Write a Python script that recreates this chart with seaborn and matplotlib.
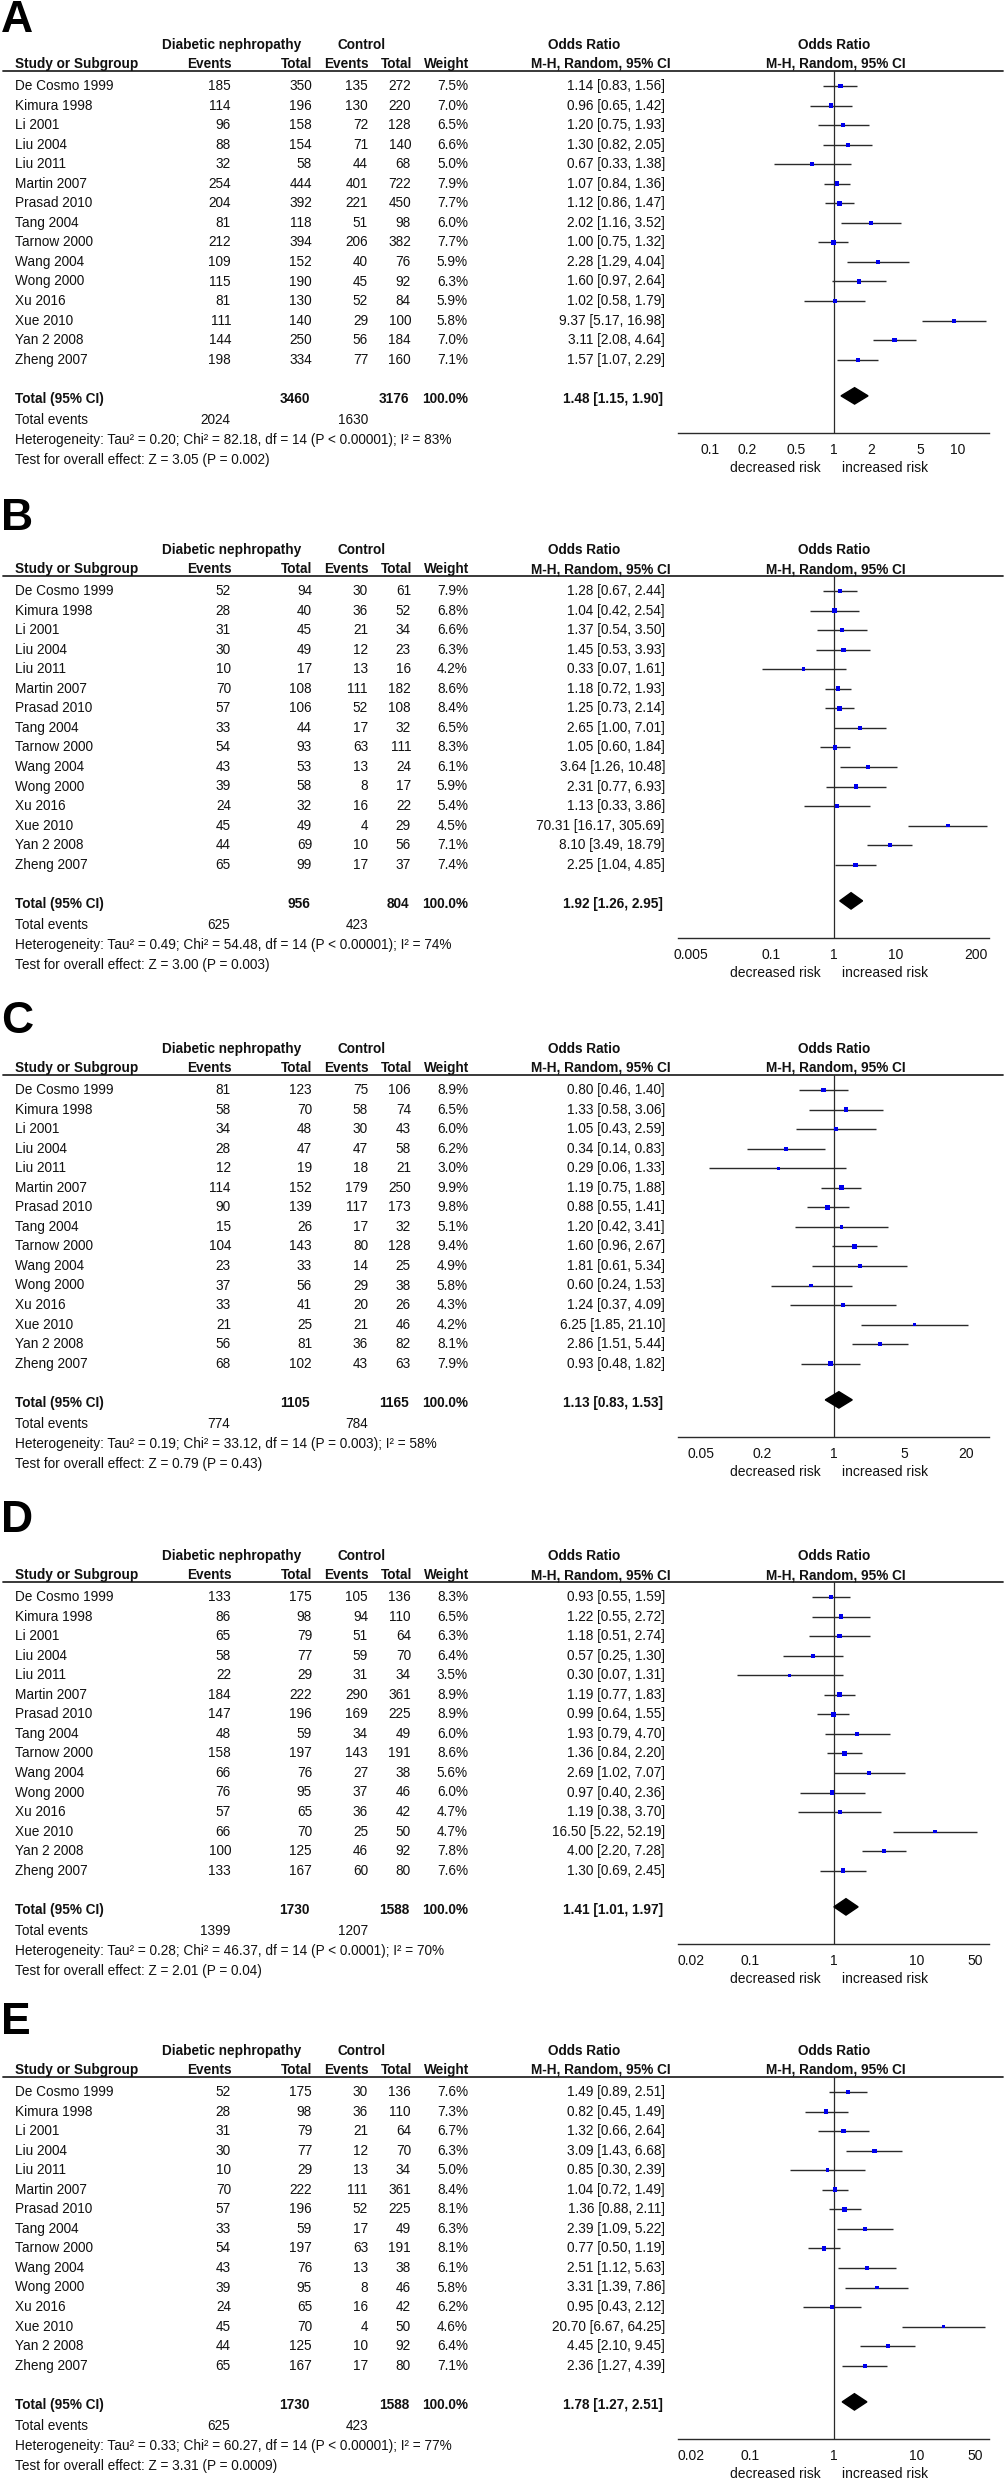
import numpy as np
import seaborn as sns
import matplotlib.pyplot as plt
from matplotlib.ticker import NullLocator
from matplotlib.transforms import blended_transform_factory

# ---- data ----
studies = ["De Cosmo 1999", "Kimura 1998", "Li 2001", "Liu 2004", "Liu 2011",
           "Martin 2007", "Prasad 2010", "Tang 2004", "Tarnow 2000", "Wang 2004",
           "Wong 2000", "Xu 2016", "Xue 2010", "Yan 2 2008", "Zheng 2007"]
panel_labels = ["A", "B", "C", "D", "E"]

a_dn_events = [185, 114, 96, 88, 32, 254, 204, 81, 212, 109, 115, 81, 111, 144, 198]
a_dn_total = [350, 196, 158, 154, 58, 444, 392, 118, 394, 152, 190, 130, 140, 250, 334]
a_ct_events = [135, 130, 72, 71, 44, 401, 221, 51, 206, 40, 45, 52, 29, 56, 77]
a_ct_total = [272, 220, 128, 140, 68, 722, 450, 98, 382, 76, 92, 84, 100, 184, 160]
a_weight = [7.5, 7.0, 6.5, 6.6, 5.0, 7.9, 7.7, 6.0, 7.7, 5.9, 6.3, 5.9, 5.8, 7.0, 7.1]
a_or = [1.14, 0.96, 1.20, 1.30, 0.67, 1.07, 1.12, 2.02, 1.00, 2.28, 1.60, 1.02, 9.37, 3.11, 1.57]
a_lo = [0.83, 0.65, 0.75, 0.82, 0.33, 0.84, 0.86, 1.16, 0.75, 1.29, 0.97, 0.58, 5.17, 2.08, 1.07]
a_hi = [1.56, 1.42, 1.93, 2.05, 1.38, 1.36, 1.47, 3.52, 1.32, 4.04, 2.64, 1.79, 16.98, 4.64, 2.29]

b_dn_events = [52, 28, 31, 30, 10, 70, 57, 33, 54, 43, 39, 24, 45, 44, 65]
b_dn_total = [94, 40, 45, 49, 17, 108, 106, 44, 93, 53, 58, 32, 49, 69, 99]
b_ct_events = [30, 36, 21, 12, 13, 111, 52, 17, 63, 13, 8, 16, 4, 10, 17]
b_ct_total = [61, 52, 34, 23, 16, 182, 108, 32, 111, 24, 17, 22, 29, 56, 37]
b_weight = [7.9, 6.8, 6.6, 6.3, 4.2, 8.6, 8.4, 6.5, 8.3, 6.1, 5.9, 5.4, 4.5, 7.1, 7.4]
b_or = [1.28, 1.04, 1.37, 1.45, 0.33, 1.18, 1.25, 2.65, 1.05, 3.64, 2.31, 1.13, 70.31, 8.10, 2.25]
b_lo = [0.67, 0.42, 0.54, 0.53, 0.07, 0.72, 0.73, 1.00, 0.60, 1.26, 0.77, 0.33, 16.17, 3.49, 1.04]
b_hi = [2.44, 2.54, 3.50, 3.93, 1.61, 1.93, 2.14, 7.01, 1.84, 10.48, 6.93, 3.86, 305.69, 18.79, 4.85]

c_dn_events = [81, 58, 34, 28, 12, 114, 90, 15, 104, 23, 37, 33, 21, 56, 68]
c_dn_total = [123, 70, 48, 47, 19, 152, 139, 26, 143, 33, 56, 41, 25, 81, 102]
c_ct_events = [75, 58, 30, 47, 18, 179, 117, 17, 80, 14, 29, 20, 21, 36, 43]
c_ct_total = [106, 74, 43, 58, 21, 250, 173, 32, 128, 25, 38, 26, 46, 82, 63]
c_weight = [8.9, 6.5, 6.0, 6.2, 3.0, 9.9, 9.8, 5.1, 9.4, 4.9, 5.8, 4.3, 4.2, 8.1, 7.9]
c_or = [0.80, 1.33, 1.05, 0.34, 0.29, 1.19, 0.88, 1.20, 1.60, 1.81, 0.60, 1.24, 6.25, 2.86, 0.93]
c_lo = [0.46, 0.58, 0.43, 0.14, 0.06, 0.75, 0.55, 0.42, 0.96, 0.61, 0.24, 0.37, 1.85, 1.51, 0.48]
c_hi = [1.40, 3.06, 2.59, 0.83, 1.33, 1.88, 1.41, 3.41, 2.67, 5.34, 1.53, 4.09, 21.10, 5.44, 1.82]

d_dn_events = [133, 86, 65, 58, 22, 184, 147, 48, 158, 66, 76, 57, 66, 100, 133]
d_dn_total = [175, 98, 79, 77, 29, 222, 196, 59, 197, 76, 95, 65, 70, 125, 167]
d_ct_events = [105, 94, 51, 59, 31, 290, 169, 34, 143, 27, 37, 36, 25, 46, 60]
d_ct_total = [136, 110, 64, 70, 34, 361, 225, 49, 191, 38, 46, 42, 50, 92, 80]
d_weight = [8.3, 6.5, 6.3, 6.4, 3.5, 8.9, 8.9, 6.0, 8.6, 5.6, 6.0, 4.7, 4.7, 7.8, 7.6]
d_or = [0.93, 1.22, 1.18, 0.57, 0.30, 1.19, 0.99, 1.93, 1.36, 2.69, 0.97, 1.19, 16.50, 4.00, 1.30]
d_lo = [0.55, 0.55, 0.51, 0.25, 0.07, 0.77, 0.64, 0.79, 0.84, 1.02, 0.40, 0.38, 5.22, 2.20, 0.69]
d_hi = [1.59, 2.72, 2.74, 1.30, 1.31, 1.83, 1.55, 4.70, 2.20, 7.07, 2.36, 3.70, 52.19, 7.28, 2.45]

e_dn_events = [52, 28, 31, 30, 10, 70, 57, 33, 54, 43, 39, 24, 45, 44, 65]
e_dn_total = [175, 98, 79, 77, 29, 222, 196, 59, 197, 76, 95, 65, 70, 125, 167]
e_ct_events = [30, 36, 21, 12, 13, 111, 52, 17, 63, 13, 8, 16, 4, 10, 17]
e_ct_total = [136, 110, 64, 70, 34, 361, 225, 49, 191, 38, 46, 42, 50, 92, 80]
e_weight = [7.6, 7.3, 6.7, 6.3, 5.0, 8.4, 8.1, 6.3, 8.1, 6.1, 5.8, 6.2, 4.6, 6.4, 7.1]
e_or = [1.49, 0.82, 1.32, 3.09, 0.85, 1.04, 1.36, 2.39, 0.77, 2.51, 3.31, 0.95, 20.70, 4.45, 2.36]
e_lo = [0.89, 0.45, 0.66, 1.43, 0.30, 0.72, 0.88, 1.09, 0.50, 1.12, 1.39, 0.43, 6.67, 2.10, 1.27]
e_hi = [2.51, 1.49, 2.64, 6.68, 2.39, 1.49, 2.11, 5.22, 1.19, 5.63, 7.86, 2.12, 64.25, 9.45, 4.39]

# pooled results per panel A..E
total_dn = [3460, 956, 1105, 1730, 1730]
total_ct = [3176, 804, 1165, 1588, 1588]
events_dn = [2024, 625, 774, 1399, 625]
events_ct = [1630, 423, 784, 1207, 423]
pooled_or = [1.48, 1.92, 1.13, 1.41, 1.78]
pooled_lo = [1.15, 1.26, 0.83, 1.01, 1.27]
pooled_hi = [1.90, 2.95, 1.53, 1.97, 2.51]
heterogeneity = [
    "Heterogeneity: Tau\u00b2 = 0.20; Chi\u00b2 = 82.18, df = 14 (P < 0.00001); I\u00b2 = 83%",
    "Heterogeneity: Tau\u00b2 = 0.49; Chi\u00b2 = 54.48, df = 14 (P < 0.00001); I\u00b2 = 74%",
    "Heterogeneity: Tau\u00b2 = 0.19; Chi\u00b2 = 33.12, df = 14 (P = 0.003); I\u00b2 = 58%",
    "Heterogeneity: Tau\u00b2 = 0.28; Chi\u00b2 = 46.37, df = 14 (P < 0.0001); I\u00b2 = 70%",
    "Heterogeneity: Tau\u00b2 = 0.33; Chi\u00b2 = 60.27, df = 14 (P < 0.00001); I\u00b2 = 77%",
]
overall_test = [
    "Test for overall effect: Z = 3.05 (P = 0.002)",
    "Test for overall effect: Z = 3.00 (P = 0.003)",
    "Test for overall effect: Z = 0.79 (P = 0.43)",
    "Test for overall effect: Z = 2.01 (P = 0.04)",
    "Test for overall effect: Z = 3.31 (P = 0.0009)",
]
axis_ticks = [
    [0.1, 0.2, 0.5, 1, 2, 5, 10],
    [0.005, 0.1, 1, 10, 200],
    [0.05, 0.2, 1, 5, 20],
    [0.02, 0.1, 1, 10, 50],
    [0.02, 0.1, 1, 10, 50],
]
axis_tick_labels = [
    ["0.1", "0.2", "0.5", "1", "2", "5", "10"],
    ["0.005", "0.1", "1", "10", "200"],
    ["0.05", "0.2", "1", "5", "20"],
    ["0.02", "0.1", "1", "10", "50"],
    ["0.02", "0.1", "1", "10", "50"],
]

panels = [
    dict(dn_ev=a_dn_events, dn_tot=a_dn_total, ct_ev=a_ct_events, ct_tot=a_ct_total,
         w=a_weight, odds=a_or, lo=a_lo, hi=a_hi),
    dict(dn_ev=b_dn_events, dn_tot=b_dn_total, ct_ev=b_ct_events, ct_tot=b_ct_total,
         w=b_weight, odds=b_or, lo=b_lo, hi=b_hi),
    dict(dn_ev=c_dn_events, dn_tot=c_dn_total, ct_ev=c_ct_events, ct_tot=c_ct_total,
         w=c_weight, odds=c_or, lo=c_lo, hi=c_hi),
    dict(dn_ev=d_dn_events, dn_tot=d_dn_total, ct_ev=d_ct_events, ct_tot=d_ct_total,
         w=d_weight, odds=d_or, lo=d_lo, hi=d_hi),
    dict(dn_ev=e_dn_events, dn_tot=e_dn_total, ct_ev=e_ct_events, ct_tot=e_ct_total,
         w=e_weight, odds=e_or, lo=e_lo, hi=e_hi),
]

# ---- layout (pixels) ----
W, H = 1006, 2481
panel_top = [0, 505, 1004, 1511, 2006]
letter_y = [20, 518, 1022, 1520, 2023]
x_span = [1.255, 2.51, 1.53, 1.86, 1.86]   # half width of log axis, decades
first_row, row_px = 86, 19.55
axis_top, axis_bot = 71, 433
ax_left, ax_right = 678, 989

sns.set_style("white")
plt.rcParams["font.family"] = ["Liberation Sans", "DejaVu Sans"]
FS = 9.8
TXT = "#111111"
LINE = "#2a2a2a"


def row(rel_px):
    return (rel_px - first_row) / row_px


fig = plt.figure(figsize=(W / 100, H / 100), dpi=100)

for k, p in enumerate(panels):
    top = panel_top[k]
    ax = fig.add_axes([ax_left / W, 1 - (top + axis_bot) / H,
                       (ax_right - ax_left) / W, (axis_bot - axis_top) / H])
    ax.patch.set_alpha(0)
    ax.set_xscale("log")
    ax.set_xlim(10 ** -x_span[k], 10 ** x_span[k])
    ax.set_ylim(row(axis_bot), row(axis_top))

    rows = np.arange(len(studies))
    ax.hlines(rows, p["lo"], p["hi"], color=LINE, lw=1.0, zorder=2)
    sns.scatterplot(x=p["odds"], y=rows, size=p["w"], sizes=(5, 13), size_norm=(3, 10),
                    marker="s", color="#0000ee", edgecolor="none", legend=False,
                    ax=ax, zorder=3)
    ax.axvline(1, color=LINE, lw=0.9, zorder=1)

    tr = len(studies) + 1
    dy = 0.42
    cy = tr - 0.15
    ax.fill([pooled_lo[k], pooled_or[k], pooled_hi[k], pooled_or[k]],
            [cy, cy - dy, cy, cy + dy], color="black", zorder=3)

    for side in ["left", "right", "top"]:
        ax.spines[side].set_visible(False)
    ax.spines["bottom"].set_color(LINE)
    ax.spines["bottom"].set_linewidth(1.0)
    ax.set_yticks([])
    ax.set_xticks(axis_ticks[k], axis_tick_labels[k])
    ax.xaxis.set_minor_locator(NullLocator())
    ax.tick_params(axis="x", direction="inout", length=6, width=1.0, color=LINE,
                   labelsize=10, pad=4, labelcolor=TXT)
    ax.set_xlabel("")
    ax.set_ylabel("")

    tf = blended_transform_factory(fig.transFigure, ax.transData)

    def put(xpx, y, s, ha="left", bold=False, size=FS):
        ax.text(xpx / W, y, s, transform=tf, ha=ha, va="center", fontsize=size,
                fontweight="bold" if bold else "normal", color=TXT, clip_on=False)

    # headers
    h1, h2 = row(45), row(64)
    put(232, h1, "Diabetic nephropathy", "center", True)
    put(362, h1, "Control", "center", True)
    put(584, h1, "Odds Ratio", "center", True)
    put(834, h1, "Odds Ratio", "center", True)
    put(15, h2, "Study or Subgroup", "left", True)
    put(232, h2, "Events", "right", True)
    put(312, h2, "Total", "right", True)
    put(369, h2, "Events", "right", True)
    put(412, h2, "Total", "right", True)
    put(469, h2, "Weight", "right", True)
    put(671, h2, "M-H, Random, 95% CI", "right", True)
    put(836, h2, "M-H, Random, 95% CI", "center", True)
    ax.plot([3 / W, 1003 / W], [row(axis_top)] * 2, transform=tf, color=LINE,
            lw=1.3, clip_on=False)

    # study rows
    for i, name in enumerate(studies):
        put(15, i, name)
        put(231, i, str(p["dn_ev"][i]), "right")
        put(312, i, str(p["dn_tot"][i]), "right")
        put(368, i, str(p["ct_ev"][i]), "right")
        put(411, i, str(p["ct_tot"][i]), "right")
        put(468, i, f"{p['w'][i]:.1f}%", "right")
        put(665, i, f"{p['odds'][i]:.2f} [{p['lo'][i]:.2f}, {p['hi'][i]:.2f}]", "right")

    # totals
    put(15, tr, "Total (95% CI)", bold=True)
    put(310, tr, str(total_dn[k]), "right", True)
    put(409, tr, str(total_ct[k]), "right", True)
    put(468, tr, "100.0%", "right", True)
    put(663, tr, f"{pooled_or[k]:.2f} [{pooled_lo[k]:.2f}, {pooled_hi[k]:.2f}]", "right", True)
    put(15, row(420), "Total events")
    put(230, row(420), str(events_dn[k]), "right")
    put(368, row(420), str(events_ct[k]), "right")
    put(15, row(440), heterogeneity[k])
    put(15, row(460), overall_test[k])

    put(775, row(468), "decreased risk", "center", size=10)
    put(885, row(468), "increased risk", "center", size=10)

    fig.text(1 / W, 1 - letter_y[k] / H, panel_labels[k], fontsize=32,
             fontweight="bold", ha="left", va="center", color="black")

fig.savefig("out.png", dpi=100, facecolor="white")
